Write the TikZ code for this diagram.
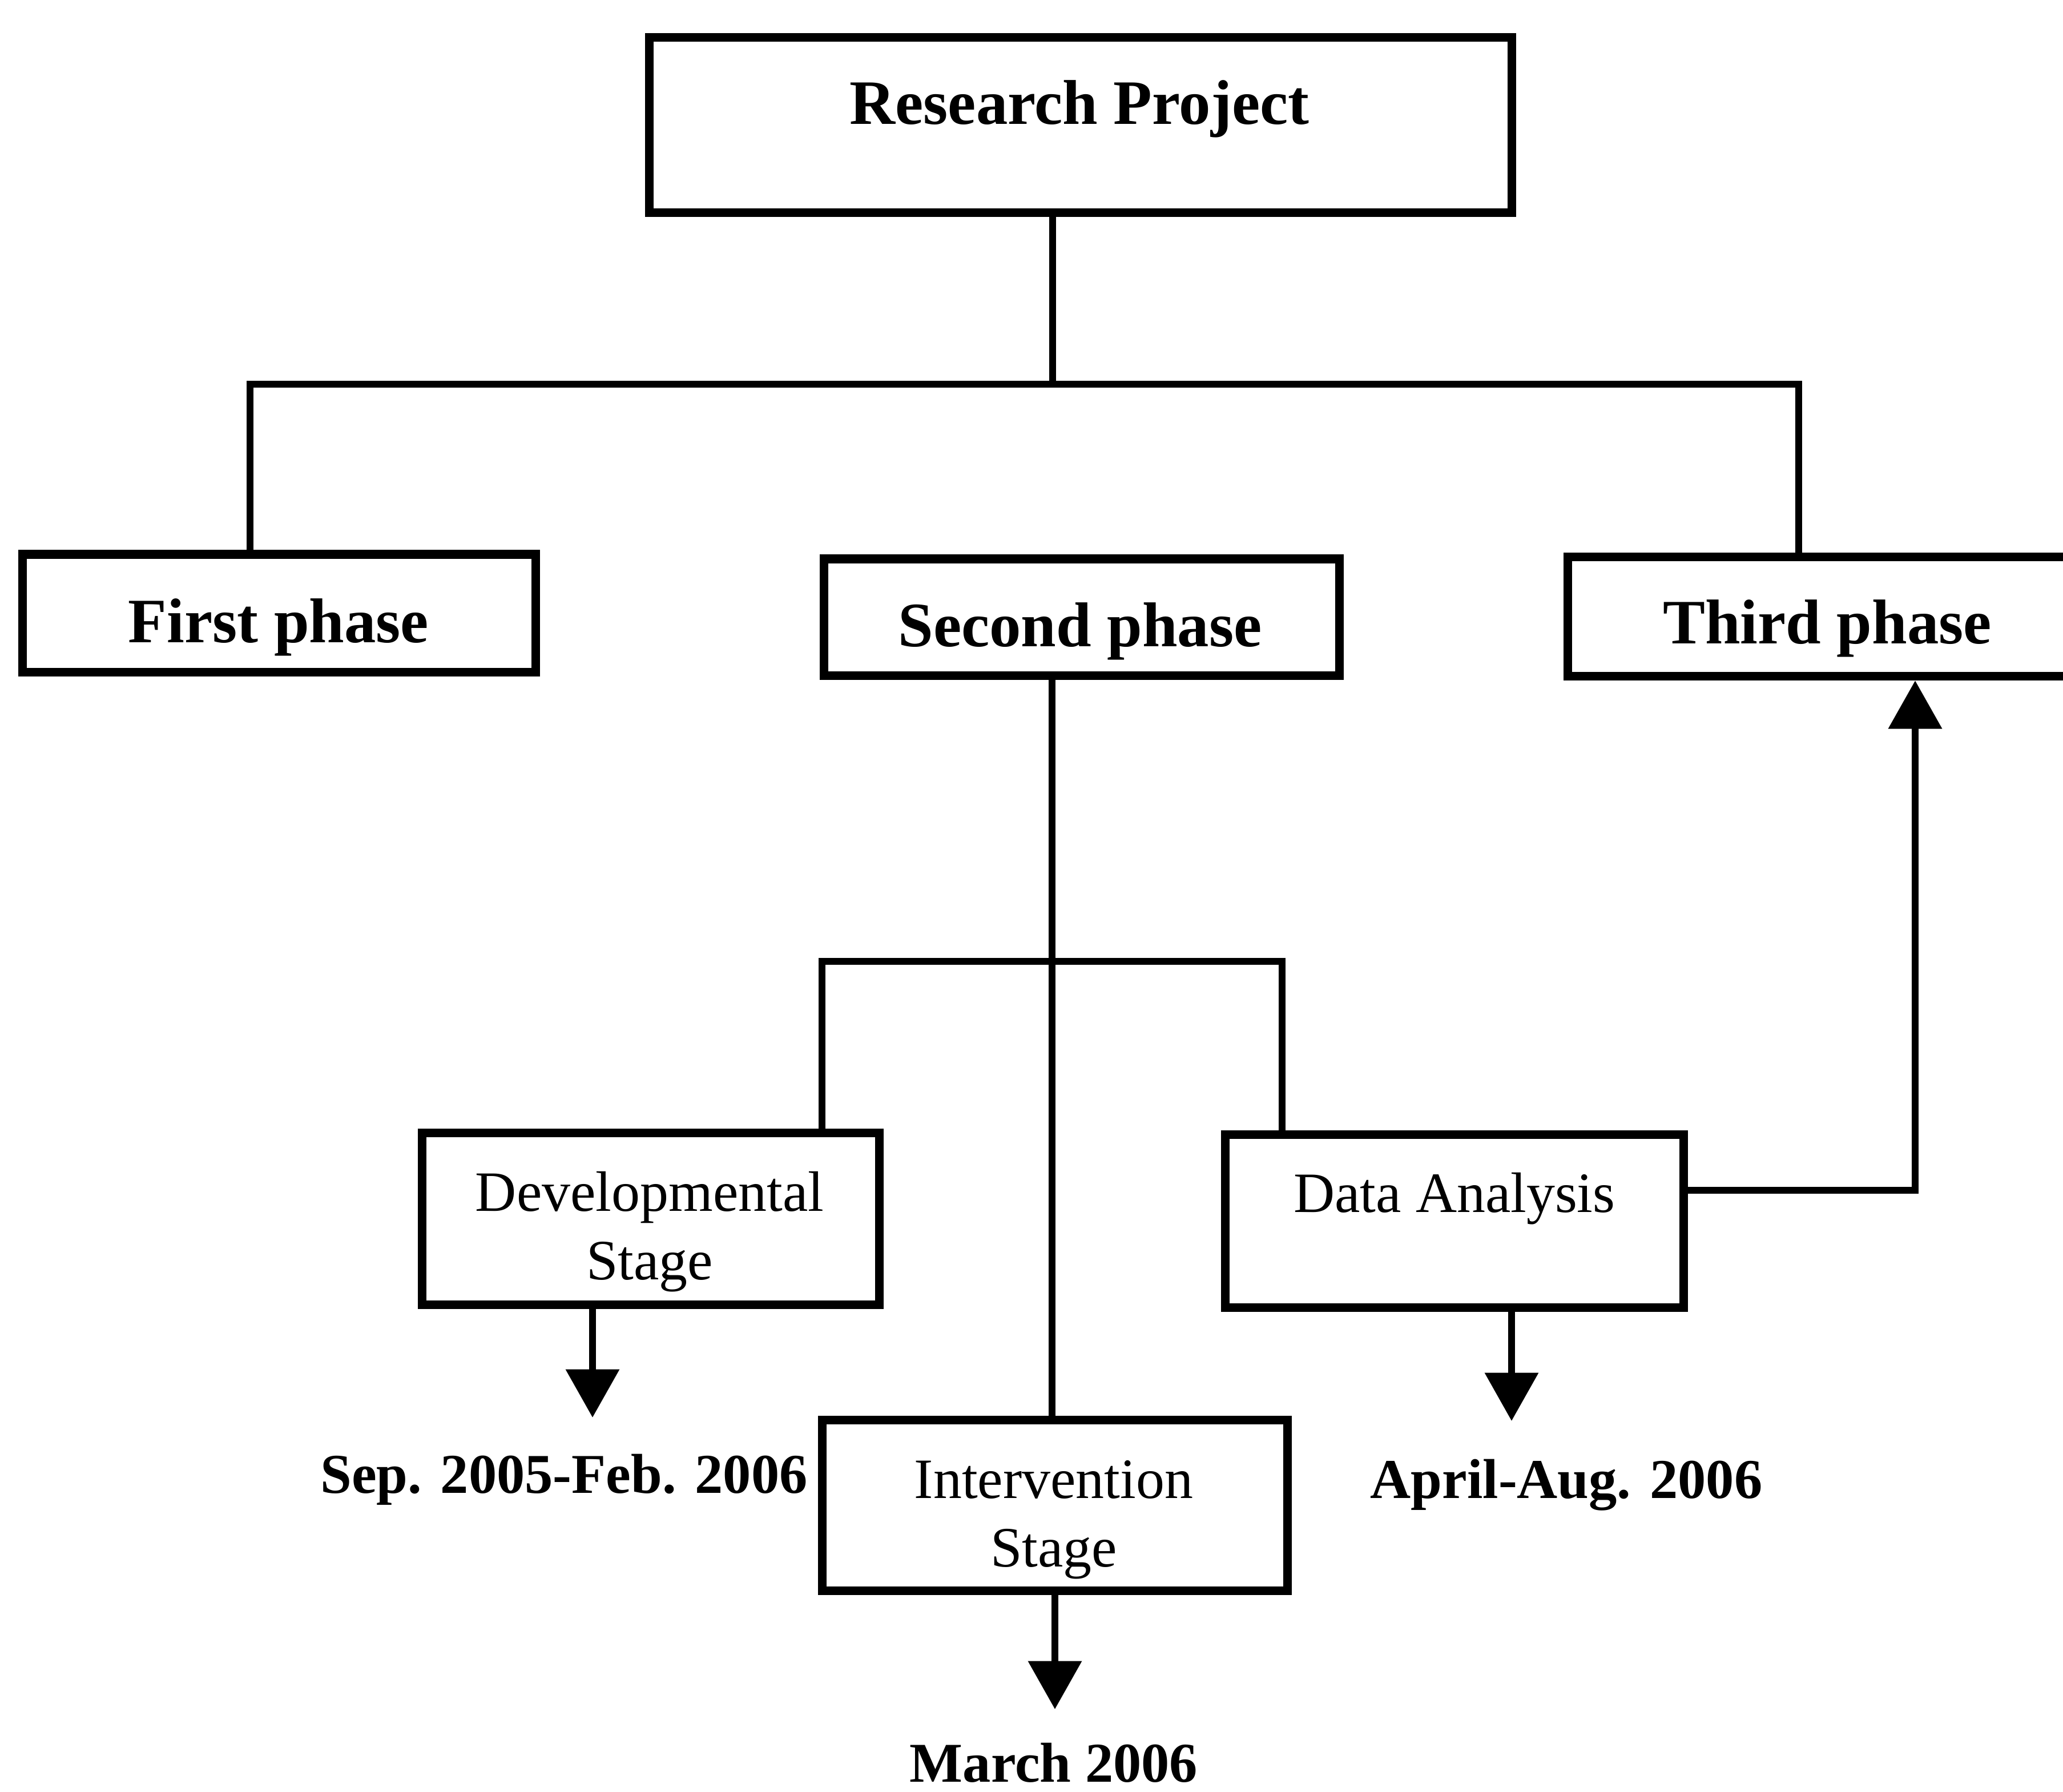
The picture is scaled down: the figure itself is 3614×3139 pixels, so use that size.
\documentclass[tikz,border=0pt]{standalone}
\usepackage{fontspec}
\setmainfont{Liberation Serif}
\usetikzlibrary{arrows.meta}

\tikzset{
  stagebox/.style 2 args={draw=black, line width=4.3pt, fill=white, inner sep=0pt,
    minimum width=#1, minimum height=#2},
  link/.style={draw=black, line width=3.5pt},
  arrowlink/.style={link, -{Triangle[width=26pt, length=24pt]}},
  headtext/.style={anchor=base, inner sep=0pt, font=\fontsize{31.5}{38}\selectfont\bfseries},
  stagetext/.style={anchor=base, inner sep=0pt, align=center, font=\fontsize{28.4}{34.1}\selectfont},
  datetext/.style={anchor=base, inner sep=0pt, font=\fontsize{28}{34}\selectfont\bfseries},
}

\begin{document}
\begin{tikzpicture}[x=0.01cm, y=-0.01cm]
  \useasboundingbox (0,0) rectangle (3614,3139);
  \clip (0,0) rectangle (3614,3139);

  % top level
  \node[stagebox={15.10cm}{3.06cm}] (rp) at (1893,219) {};
  \node[headtext] (rptext) at (1891,217) {Research Project};

  % the three phases
  \node[stagebox={8.98cm}{2.06cm}] (fp) at (489,1074) {};
  \node[headtext] (fptext) at (488,1125) {First phase};
  \node[stagebox={9.03cm}{2.04cm}] (sp) at (1895,1081) {};
  \node[headtext] (sptext) at (1892,1132) {Second phase};
  \node[stagebox={9.08cm}{2.09cm}] (tp) at (3201,1080) {};
  \node[headtext] (tptext) at (3201,1127) {Third phase};

  % stages of the second phase
  \node[stagebox={8.01cm}{3.00cm}] (dev) at (1140,2135) {};
  \node[stagetext] (devtext) at (1138,2241) {Developmental\\Stage};
  \node[stagebox={8.03cm}{3.02cm}] (da) at (2548,2139) {};
  \node[stagetext] (datext) at (2548,2123) {Data Analysis};
  \node[stagebox={8.15cm}{2.99cm}] (iv) at (1848,2637) {};
  \node[stagetext] (ivtext) at (1846,2744) {Intervention\\Stage};

  % dates
  \node[datetext] (devdate) at (988,2615) {Sep. 2005-Feb. 2006};
  \node[datetext] (dadate) at (2744,2624) {April-Aug. 2006};
  \node[datetext] (ivdate) at (1846,3121) {March 2006};

  % junction points of the tree
  \coordinate (jtop) at (1844,673);
  \coordinate (jleft) at (438,673);
  \coordinate (jright) at (3151,673);
  \coordinate (jmid) at (1843,1684);
  \coordinate (jmidl) at (1440,1684);
  \coordinate (jmidr) at (2246,1684);
  \coordinate (jout) at (3355,2085);

  % arrow ends above the dates
  \coordinate (devend) at (1038,2483);
  \coordinate (daend) at (2648,2489);
  \coordinate (ivend) at (1848,2994);

  % tree connectors
  \draw[link] (jtop |- rp.south) -- (jtop);
  \draw[link] (jleft |- fp.north) -- (jleft) -- (jright) -- (jright |- tp.north);
  \draw[link] (jmid |- sp.south) -- (jmid |- iv.north);
  \draw[link] (jmidl |- dev.north) -- (jmidl) -- (jmidr) -- (jmidr |- da.north);

  % arrows to the dates
  \draw[arrowlink] (devend |- dev.south) -- (devend);
  \draw[arrowlink] (daend |- da.south) -- (daend);
  \draw[arrowlink] (iv.south) -- (ivend);

  % data analysis feeds the third phase
  \draw[arrowlink] (jout -| da.east) -- (jout) -- (jout |- tp.south);
\end{tikzpicture}
\end{document}
